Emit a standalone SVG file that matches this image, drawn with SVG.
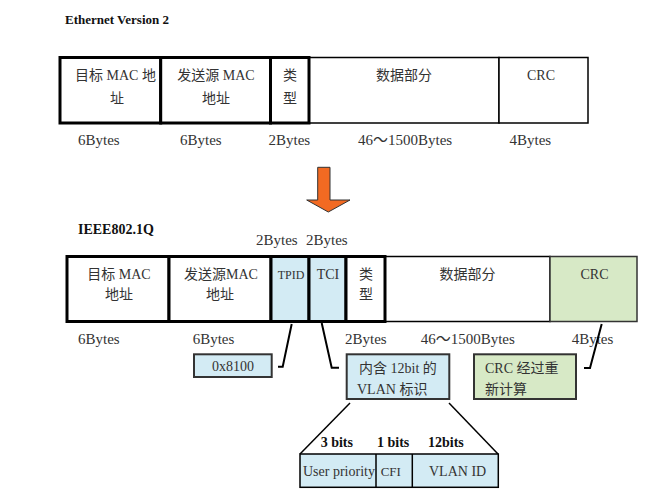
<svg xmlns="http://www.w3.org/2000/svg" width="651" height="502" viewBox="0 0 651 502">
<defs>
<style>
text{font-family:"Liberation Serif","Noto Sans CJK SC",serif;fill:#333;font-size:14px}
.b{font-size:15px}
.h{font-weight:bold;fill:#111}
.c{text-anchor:middle}
.thick{fill:#fff;stroke:#000;stroke-width:3}
.thin{fill:#fff;stroke:#000;stroke-width:1.5}
.blue{fill:#d3ebf4}
.green{fill:#d7e9c6}
.box{stroke:#333;stroke-width:2}
.cn{stroke:#000;stroke-width:2;fill:none}
</style>
</defs>
<rect width="651" height="502" fill="#fff"/>

<text id="title1" class="h" x="65" y="24" style="font-size:13px">Ethernet Version 2</text>

<g id="eth-frame">
<rect class="thin" x="309" y="57.5" width="190" height="65.5"/>
<rect class="thin" x="499" y="57.5" width="89" height="65.5"/>
<rect class="thick" x="60" y="57.5" width="100.7" height="65.5"/>
<rect class="thick" x="160.7" y="57.5" width="109.8" height="65.5"/>
<rect class="thick" x="270.5" y="57.5" width="38.5" height="65.5"/>
<text x="75" y="80">目标 MAC 地</text>
<text class="c" x="117" y="103">址</text>
<text class="c" x="216" y="80">发送源 MAC</text>
<text class="c" x="216" y="103">地址</text>
<text class="c" x="290" y="80">类</text>
<text class="c" x="290" y="103">型</text>
<text class="c" x="404" y="80">数据部分</text>
<text class="c" x="541" y="80">CRC</text>
</g>

<g id="eth-sizes">
<text class="b" x="78" y="145">6Bytes</text>
<text class="b" x="180" y="145">6Bytes</text>
<text class="b" x="268.5" y="145">2Bytes</text>
<text class="b" x="358" y="145">46～1500Bytes</text>
<text class="b" x="509.5" y="145">4Bytes</text>
</g>

<g id="arrow">
<path d="M317.7,167.3 H330 V200 H350 L328.3,212 L306.7,200 H317.7 Z" fill="#f26a22" stroke="#333" stroke-width="1"/>
</g>

<text id="title2" class="h" x="78" y="234">IEEE802.1Q</text>

<g id="tag-sizes">
<text class="b" x="256" y="245">2Bytes</text>
<text class="b" x="306" y="245">2Bytes</text>
</g>

<g id="q-frame">
<rect class="thin" x="385" y="256.5" width="165" height="65"/>
<rect class="thin green" x="550" y="256.5" width="87" height="65" style="stroke:#333"/>
<rect class="thick" x="67" y="256.5" width="102" height="65"/>
<rect class="thick" x="169" y="256.5" width="102" height="65"/>
<rect class="thick blue" x="271" y="256.5" width="38" height="65"/>
<rect class="thick blue" x="309" y="256.5" width="37" height="65"/>
<rect class="thick" x="346" y="256.5" width="39" height="65"/>
<text class="c" x="119" y="279">目标 MAC</text>
<text class="c" x="119" y="299">地址</text>
<text class="c" x="221" y="279">发送源MAC</text>
<text class="c" x="220" y="299">地址</text>
<text class="c" x="291" y="279" style="font-size:12px">TPID</text>
<text class="c" x="328" y="279">TCI</text>
<text class="c" x="366" y="279">类</text>
<text class="c" x="366" y="299">型</text>
<text class="c" x="467.5" y="279">数据部分</text>
<text class="c" x="594.5" y="279">CRC</text>
</g>

<g id="q-sizes">
<text class="b" x="78" y="344">6Bytes</text>
<text class="b" x="192.7" y="344">6Bytes</text>
<text class="b" x="345" y="344">2Bytes</text>
<text class="b" x="420.7" y="344">46～1500Bytes</text>
<text class="b" x="571.7" y="344">4Bytes</text>
</g>

<g id="connectors">
<polyline class="cn" points="291.7,324 282.7,366.7 278,366.7"/>
<polyline class="cn" points="321.7,323 331.7,367.7 339,367.7"/>
<polyline class="cn" points="601.7,324 590,368 584,368"/>
<line x1="350" y1="403" x2="300" y2="454" stroke="#000" stroke-width="1.5"/>
<line x1="449" y1="403" x2="498" y2="454" stroke="#000" stroke-width="1.5"/>
</g>

<g id="tpid-value">
<rect class="blue box" x="194" y="354.3" width="77.7" height="22.7"/>
<text class="c" x="233" y="371">0x8100</text>
</g>

<g id="tci-note">
<rect class="blue box" x="346.7" y="354.3" width="102.6" height="44.7"/>
<text x="359" y="373">内含 12bit 的</text>
<text x="357" y="394">VLAN 标识</text>
</g>

<g id="crc-note">
<rect class="green box" x="474" y="354.3" width="102" height="44.7"/>
<text x="485" y="373">CRC  经过重</text>
<text x="485" y="394">新计算</text>
</g>

<g id="tci-fields">
<rect class="blue" x="300" y="454" width="198.3" height="33.3" stroke="#000" stroke-width="1.5"/>
<line x1="376" y1="454" x2="376" y2="487.3" stroke="#000" stroke-width="1.5"/>
<line x1="412.3" y1="454" x2="412.3" y2="487.3" stroke="#000" stroke-width="1.5"/>
<text class="h" x="320.7" y="447">3 bits</text>
<text class="h" x="377" y="447">1 bits</text>
<text class="h" x="428" y="447">12bits</text>
<text x="303" y="476">User priority</text>
<text x="380.7" y="476" style="font-size:13px">CFI</text>
<text x="429" y="476">VLAN ID</text>
</g>
</svg>
